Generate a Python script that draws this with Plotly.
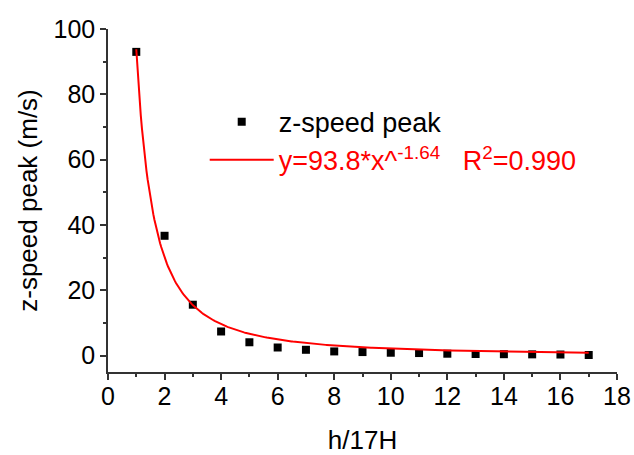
import numpy as np
import plotly.graph_objects as go

# data
h_ratio = [1, 2, 3, 4, 5, 6, 7, 8, 9, 10, 11, 12, 13, 14, 15, 16, 17]
z_speed_peak = [93.0, 36.7, 15.6, 7.4, 4.1, 2.5, 1.8, 1.3, 1.1, 0.9, 0.8, 0.6, 0.5, 0.45, 0.4, 0.35, 0.2]
fit_a = 93.8
fit_b = -1.64
fit_r2 = 0.990

xs = np.linspace(1, 17, 400)
ys = fit_a * xs ** fit_b

font = "Liberation Sans, Arial, sans-serif"

fig = go.Figure()
fig.add_trace(go.Scatter(
    x=h_ratio, y=z_speed_peak, mode="markers", name="z-speed peak",
    marker=dict(symbol="square", size=8, color="black"),
))
fig.add_trace(go.Scatter(
    x=xs, y=ys, mode="lines",
    name=f'<span style="color:red">y={fit_a}*x^<sup>{fit_b}</sup>   R<sup>2</sup>={fit_r2:.3f}</span>',
    line=dict(color="red", width=2),
))

axis_common = dict(
    showline=True, linecolor="#333", linewidth=1.5,
    ticks="outside", ticklen=6, tickwidth=1.5, tickcolor="#333",
    showgrid=False, zeroline=False, automargin=False,
    tickfont=dict(family=font, size=25, color="black"),
    mirror=False,
)

fig.update_layout(
    width=634, height=455,
    margin=dict(l=108, r=17, t=29, b=83),
    paper_bgcolor="white", plot_bgcolor="white",
    font=dict(family=font, color="black"),
    xaxis=dict(range=[0, 18], dtick=2, ticklabelstandoff=-5,
               minor=dict(dtick=1, ticks="outside", ticklen=3, tickwidth=1.5, tickcolor="#333"),
               title=dict(text="h/17H", font=dict(family=font, size=26), standoff=22),
               **axis_common),
    yaxis=dict(range=[-5, 100], tickvals=[0, 20, 40, 60, 80, 100],
               minor=dict(tickvals=[10, 30, 50, 70, 90], ticks="outside", ticklen=3, tickwidth=1.5, tickcolor="#333"),
               title=dict(text="z-speed peak (m/s)", font=dict(family=font, size=26), standoff=8),
               **axis_common),
    legend=dict(x=0.19, y=0.80, xanchor="left", yanchor="top",
                bgcolor="rgba(0,0,0,0)", font=dict(family=font, size=27),
                itemwidth=64, tracegroupgap=0),
    showlegend=True,
)

fig.write_html("out.html")
